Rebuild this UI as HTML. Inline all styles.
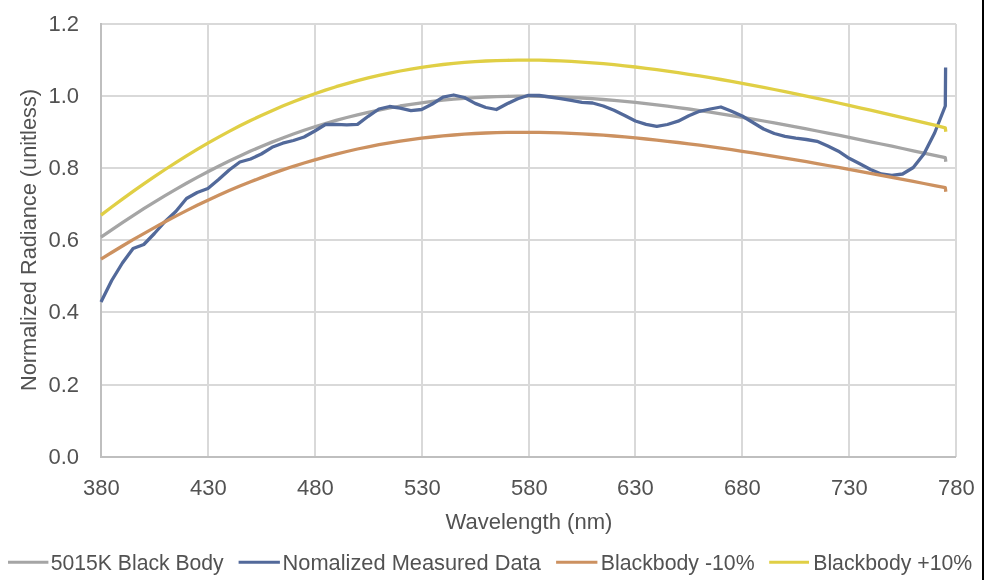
<!DOCTYPE html>
<html><head><meta charset="utf-8"><style>
html,body{margin:0;padding:0;background:#fff;}
#c{position:relative;width:984px;height:580px;overflow:hidden;background:#fff;}
svg{position:absolute;left:0;top:0;will-change:transform;}
</style></head><body><div id="c">
<svg width="984" height="580" viewBox="0 0 984 580">
<g stroke="#d9d9d9" stroke-width="2" fill="none">
<line x1="101.0" y1="385" x2="956" y2="385"/><line x1="101.0" y1="312" x2="956" y2="312"/><line x1="101.0" y1="240" x2="956" y2="240"/><line x1="101.0" y1="168" x2="956" y2="168"/><line x1="101.0" y1="96" x2="956" y2="96"/><line x1="101.0" y1="24" x2="956" y2="24"/><line x1="208" y1="24" x2="208" y2="457.0"/><line x1="315" y1="24" x2="315" y2="457.0"/><line x1="422" y1="24" x2="422" y2="457.0"/><line x1="529" y1="24" x2="529" y2="457.0"/><line x1="635" y1="24" x2="635" y2="457.0"/><line x1="742" y1="24" x2="742" y2="457.0"/><line x1="849" y1="24" x2="849" y2="457.0"/><line x1="956" y1="24" x2="956" y2="457.0"/>
</g>
<line x1="101.0" y1="23" x2="101.0" y2="457.0" stroke="#bfbfbf" stroke-width="2"/>
<line x1="100.0" y1="457.0" x2="956" y2="457.0" stroke="#bfbfbf" stroke-width="2"/>
<g fill="none" stroke-width="3.3" stroke-linejoin="round">
<path d="M101.0,237.1 L111.7,229.8 L122.4,222.6 L133.1,215.6 L143.8,208.7 L154.4,202.1 L165.1,195.6 L175.8,189.3 L186.5,183.2 L197.2,177.4 L207.9,171.7 L218.6,166.2 L229.2,161.0 L239.9,155.9 L250.6,151.1 L261.3,146.5 L272.0,142.1 L282.7,138.0 L293.4,134.0 L304.1,130.3 L314.8,126.8 L325.4,123.5 L336.1,120.4 L346.8,117.5 L357.5,114.8 L368.2,112.3 L378.9,110.1 L389.6,108.0 L400.2,106.0 L410.9,104.3 L421.6,102.8 L432.3,101.4 L443.0,100.2 L453.7,99.2 L464.4,98.3 L475.1,97.6 L485.8,97.0 L496.4,96.6 L507.1,96.3 L517.8,96.2 L528.5,96.2 L539.2,96.3 L549.9,96.6 L560.6,96.9 L571.2,97.4 L581.9,98.0 L592.6,98.7 L603.3,99.5 L614.0,100.4 L624.7,101.4 L635.4,102.4 L646.1,103.6 L656.8,104.9 L667.4,106.2 L678.1,107.6 L688.8,109.0 L699.5,110.6 L710.2,112.2 L720.9,113.8 L731.6,115.6 L742.2,117.3 L752.9,119.1 L763.6,121.0 L774.3,122.9 L785.0,124.9 L795.7,126.9 L806.4,128.9 L817.1,131.0 L827.8,133.1 L838.4,135.2 L849.1,137.4 L859.8,139.6 L870.5,141.8 L881.2,144.0 L891.9,146.2 L902.6,148.5 L913.3,150.8 L923.9,153.1 L934.6,155.4 L945.3,157.7 L945.8,161.7" stroke="#a5a5a5"/>
<path d="M101.0,302.0 L111.7,280.5 L122.4,263.0 L133.1,248.5 L143.8,244.5 L154.4,233.5 L165.1,221.5 L175.8,211.5 L186.5,198.5 L197.2,192.5 L207.9,188.5 L218.6,179.5 L229.2,170.0 L239.9,162.0 L250.6,159.0 L261.3,154.0 L272.0,147.3 L282.7,143.2 L293.4,140.5 L304.1,137.0 L314.8,131.0 L325.4,124.5 L336.1,124.4 L346.8,124.9 L357.5,124.4 L368.2,116.3 L378.9,109.0 L389.6,106.5 L400.2,108.2 L410.9,110.7 L421.6,109.5 L432.3,104.0 L443.0,97.2 L453.7,95.0 L464.4,97.5 L475.1,103.4 L485.8,107.5 L496.4,109.5 L507.1,103.8 L517.8,98.7 L528.5,95.3 L539.2,95.5 L549.9,97.0 L560.6,98.6 L571.2,100.3 L581.9,102.3 L592.6,103.0 L603.3,106.0 L614.0,110.3 L624.7,115.5 L635.4,121.0 L646.1,124.3 L656.8,126.4 L667.4,124.5 L678.1,121.2 L688.8,115.8 L699.5,111.3 L710.2,109.0 L720.9,107.0 L731.6,111.3 L742.2,116.0 L752.9,122.5 L763.6,129.0 L774.3,133.5 L785.0,136.3 L795.7,138.2 L806.4,139.5 L817.1,141.3 L827.8,146.0 L838.4,151.2 L849.1,158.3 L859.8,163.8 L870.5,169.5 L881.2,174.0 L891.9,175.3 L902.6,174.0 L913.3,167.5 L923.9,154.0 L934.6,133.0 L945.3,106.0 L945.6,67.6" stroke="#52699a"/>
<path d="M101.0,259.1 L111.7,252.5 L122.4,246.0 L133.1,239.7 L143.8,233.6 L154.4,227.6 L165.1,221.7 L175.8,216.1 L186.5,210.6 L197.2,205.3 L207.9,200.2 L218.6,195.3 L229.2,190.6 L239.9,186.0 L250.6,181.7 L261.3,177.6 L272.0,173.6 L282.7,169.9 L293.4,166.3 L304.1,163.0 L314.8,159.8 L325.4,156.8 L336.1,154.1 L346.8,151.5 L357.5,149.0 L368.2,146.8 L378.9,144.7 L389.6,142.9 L400.2,141.1 L410.9,139.6 L421.6,138.2 L432.3,137.0 L443.0,135.9 L453.7,135.0 L464.4,134.2 L475.1,133.5 L485.8,133.0 L496.4,132.6 L507.1,132.4 L517.8,132.3 L528.5,132.3 L539.2,132.4 L549.9,132.6 L560.6,132.9 L571.2,133.4 L581.9,133.9 L592.6,134.5 L603.3,135.2 L614.0,136.0 L624.7,136.9 L635.4,137.9 L646.1,139.0 L656.8,140.1 L667.4,141.3 L678.1,142.5 L688.8,143.8 L699.5,145.2 L710.2,146.7 L720.9,148.2 L731.6,149.7 L742.2,151.3 L752.9,152.9 L763.6,154.6 L774.3,156.3 L785.0,158.1 L795.7,159.9 L806.4,161.7 L817.1,163.6 L827.8,165.5 L838.4,167.4 L849.1,169.3 L859.8,171.3 L870.5,173.3 L881.2,175.3 L891.9,177.3 L902.6,179.4 L913.3,181.4 L923.9,183.5 L934.6,185.6 L945.3,187.7 L945.8,191.7" stroke="#cc9160"/>
<path d="M101.0,215.1 L111.7,207.0 L122.4,199.2 L133.1,191.4 L143.8,183.9 L154.4,176.6 L165.1,169.5 L175.8,162.6 L186.5,155.9 L197.2,149.4 L207.9,143.1 L218.6,137.1 L229.2,131.4 L239.9,125.8 L250.6,120.5 L261.3,115.5 L272.0,110.7 L282.7,106.1 L293.4,101.7 L304.1,97.6 L314.8,93.8 L325.4,90.1 L336.1,86.7 L346.8,83.6 L357.5,80.6 L368.2,77.9 L378.9,75.4 L389.6,73.1 L400.2,71.0 L410.9,69.1 L421.6,67.4 L432.3,65.8 L443.0,64.5 L453.7,63.4 L464.4,62.4 L475.1,61.6 L485.8,61.0 L496.4,60.6 L507.1,60.3 L517.8,60.1 L528.5,60.1 L539.2,60.2 L549.9,60.5 L560.6,60.9 L571.2,61.4 L581.9,62.1 L592.6,62.9 L603.3,63.7 L614.0,64.7 L624.7,65.8 L635.4,67.0 L646.1,68.3 L656.8,69.6 L667.4,71.1 L678.1,72.6 L688.8,74.3 L699.5,75.9 L710.2,77.7 L720.9,79.5 L731.6,81.4 L742.2,83.4 L752.9,85.4 L763.6,87.4 L774.3,89.5 L785.0,91.7 L795.7,93.9 L806.4,96.1 L817.1,98.4 L827.8,100.7 L838.4,103.0 L849.1,105.4 L859.8,107.8 L870.5,110.2 L881.2,112.7 L891.9,115.2 L902.6,117.7 L913.3,120.2 L923.9,122.7 L934.6,125.2 L945.3,127.8 L945.8,131.8" stroke="#e0cf45"/>
</g>
<g font-family="Liberation Sans, sans-serif" font-size="22" fill="#525252">
<text x="79" y="463.8" text-anchor="end">0.0</text><text x="79" y="391.8" text-anchor="end">0.2</text><text x="79" y="318.8" text-anchor="end">0.4</text><text x="79" y="246.8" text-anchor="end">0.6</text><text x="79" y="174.8" text-anchor="end">0.8</text><text x="79" y="102.8" text-anchor="end">1.0</text><text x="79" y="30.8" text-anchor="end">1.2</text>
<text x="101.3" y="494.5" text-anchor="middle">380</text><text x="208.3" y="494.5" text-anchor="middle">430</text><text x="315.3" y="494.5" text-anchor="middle">480</text><text x="422.3" y="494.5" text-anchor="middle">530</text><text x="529.3" y="494.5" text-anchor="middle">580</text><text x="635.3" y="494.5" text-anchor="middle">630</text><text x="742.3" y="494.5" text-anchor="middle">680</text><text x="849.3" y="494.5" text-anchor="middle">730</text><text x="956.3" y="494.5" text-anchor="middle">780</text>
<text x="528.9" y="529.4" text-anchor="middle" textLength="167" lengthAdjust="spacingAndGlyphs">Wavelength (nm)</text>
<text transform="translate(36,240) rotate(-90)" x="0" y="0" text-anchor="middle" textLength="302" lengthAdjust="spacingAndGlyphs">Normalized Radiance (unitless)</text>
<line x1="8" y1="562.3" x2="48.4" y2="562.3" stroke="#a5a5a5" stroke-width="3"/><text x="50.8" y="569.5" textLength="172.9" lengthAdjust="spacingAndGlyphs">5015K Black Body</text><line x1="238.6" y1="562.3" x2="279.9" y2="562.3" stroke="#52699a" stroke-width="3"/><text x="282.5" y="569.5" textLength="258.3" lengthAdjust="spacingAndGlyphs">Nomalized Measured Data</text><line x1="556.1" y1="562.3" x2="597.4" y2="562.3" stroke="#cc9160" stroke-width="3"/><text x="600.8" y="569.5" textLength="153.8" lengthAdjust="spacingAndGlyphs">Blackbody -10%</text><line x1="769.2" y1="562.3" x2="809" y2="562.3" stroke="#e0cf45" stroke-width="3"/><text x="813.2" y="569.5" textLength="159.1" lengthAdjust="spacingAndGlyphs">Blackbody +10%</text>
</g>
<rect x="982" y="0" width="2" height="580" fill="#000"/>
</svg>
</div></body></html>
